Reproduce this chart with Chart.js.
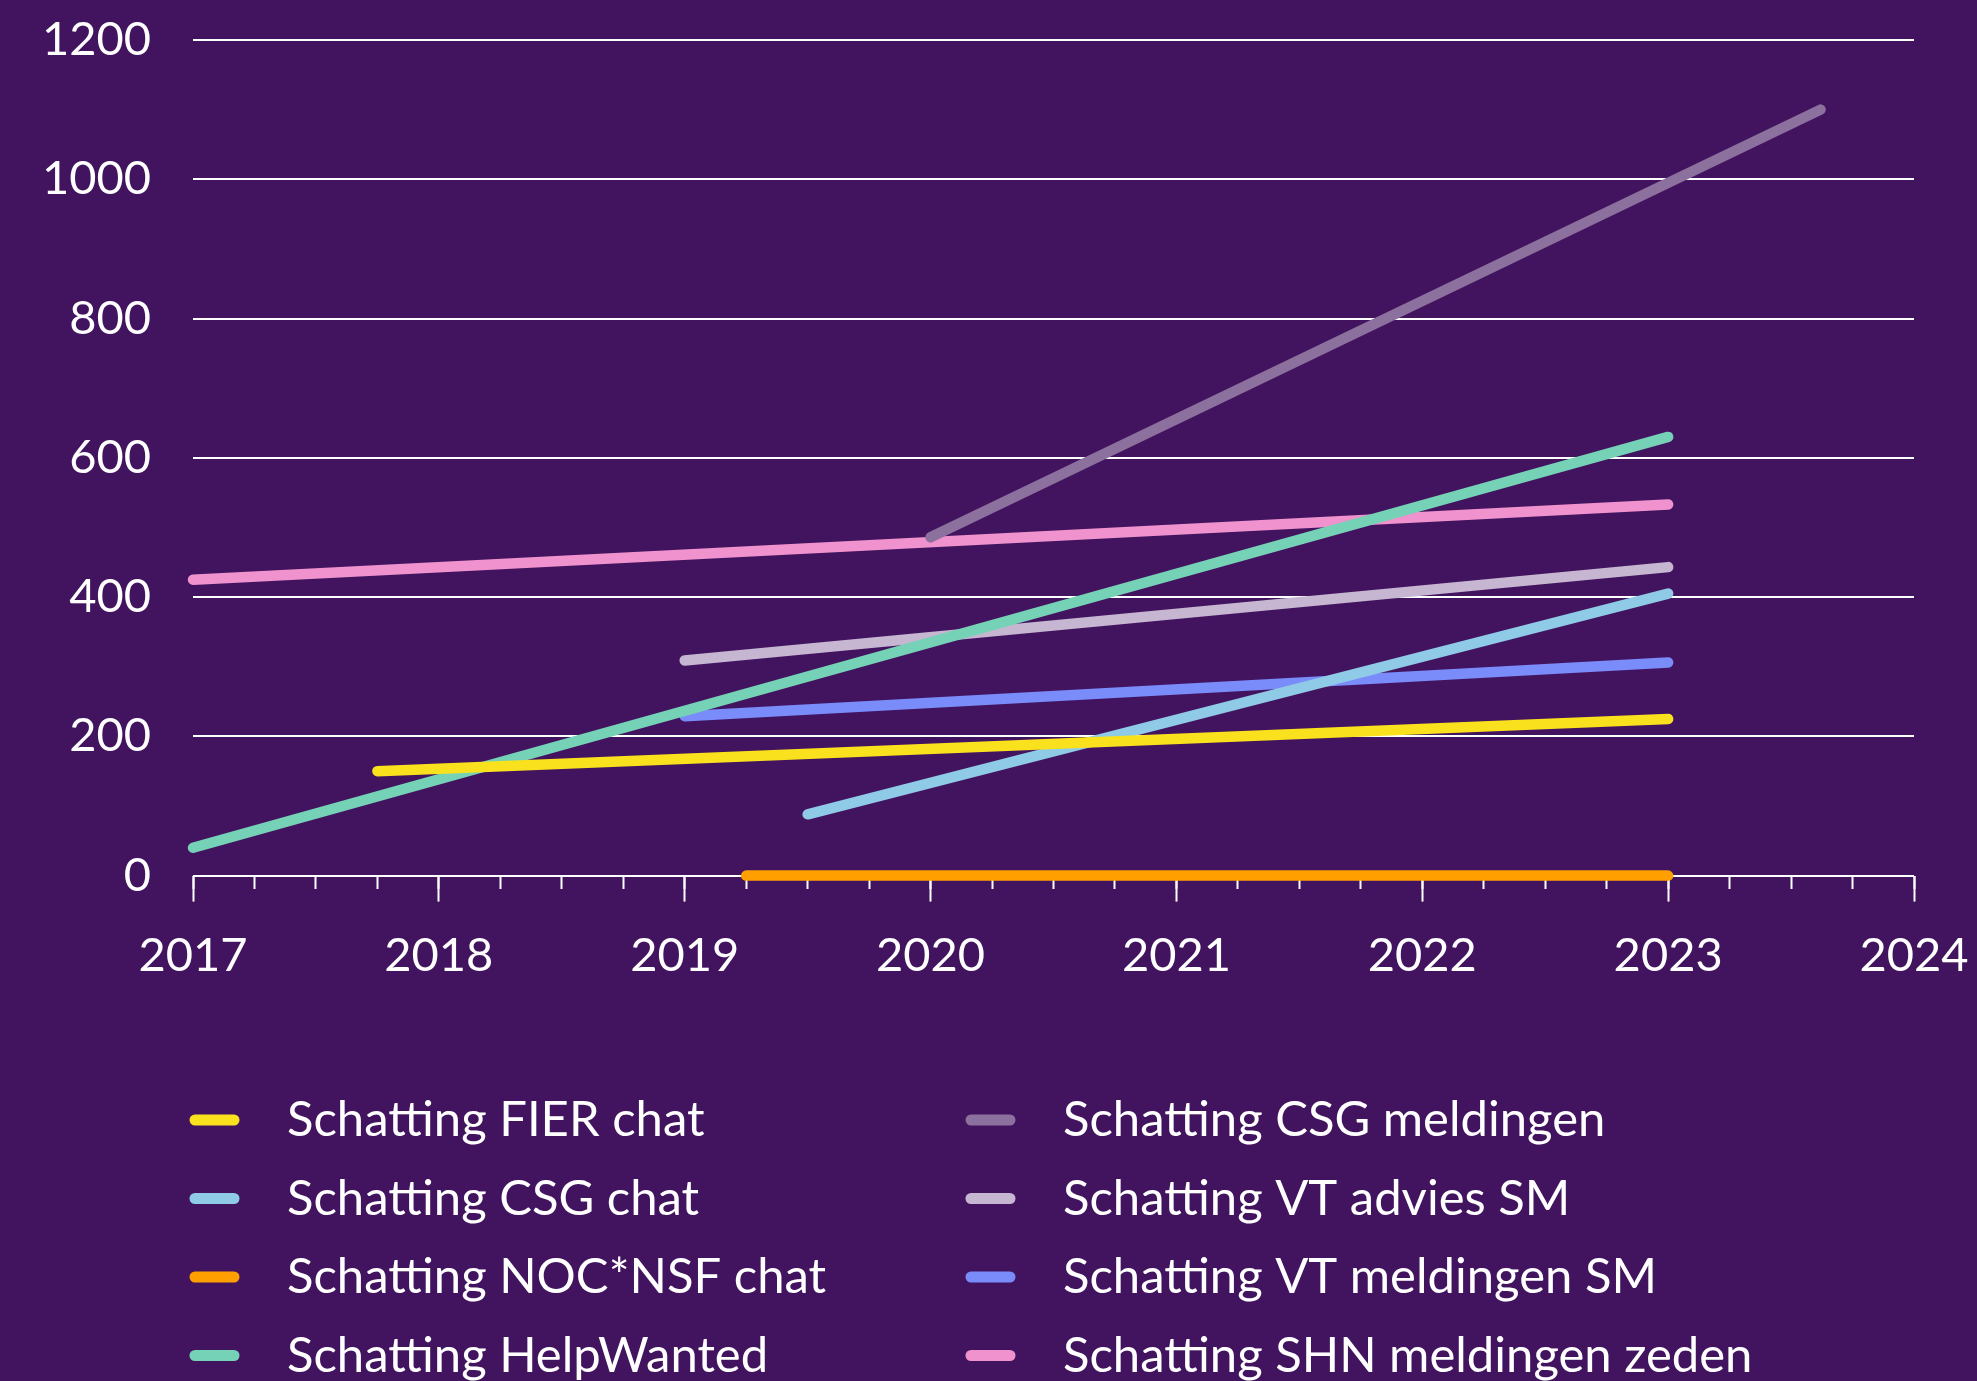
<!DOCTYPE html>
<html>
<head>
<meta charset="utf-8">
<script src="https://cdn.jsdelivr.net/npm/chart.js@4.4.1/dist/chart.umd.min.js"></script>
<style>
  html, body { margin: 0; padding: 0; background: #42145F; overflow: hidden; }
  #wrap { position: relative; width: 1977px; height: 1381px; }
</style>
</head>
<body>
<div id="wrap"><canvas id="c"></canvas></div>
<script>
// ---- data ----
const seriesLabels = [
  'Schatting FIER chat',
  'Schatting CSG chat',
  'Schatting NOC*NSF chat',
  'Schatting HelpWanted',
  'Schatting CSG meldingen',
  'Schatting VT advies SM',
  'Schatting VT meldingen SM',
  'Schatting SHN meldingen zeden'
];
const seriesColors = ['#F9E11E', '#8FCAE7', '#FFA000', '#76D2B6', '#8C709D', '#C6B6D1', '#7A8BFA', '#F092CD'];

const fierYears = [2017.75, 2023];      const fierValues = [150, 225];
const csgChatYears = [2019.5, 2023];    const csgChatValues = [88, 405];
const nocYears = [2019.25, 2023];       const nocValues = [0, 0];
const helpYears = [2017, 2023];         const helpValues = [40, 630];
const csgMeldYears = [2020, 2023.62];   const csgMeldValues = [486, 1100];
const vtAdviesYears = [2019, 2023];     const vtAdviesValues = [309, 443];
const vtMeldYears = [2019, 2023];       const vtMeldValues = [229, 306];
const shnYears = [2017, 2023];          const shnValues = [425, 533];

const yearsList = [fierYears, csgChatYears, nocYears, helpYears, csgMeldYears, vtAdviesYears, vtMeldYears, shnYears];
const valuesList = [fierValues, csgChatValues, nocValues, helpValues, csgMeldValues, vtAdviesValues, vtMeldValues, shnValues];

const xMin = 2017, xMax = 2024, yMin = 0, yMax = 1200;

const datasets = seriesLabels.map((label, i) => ({
  label,
  data: yearsList[i].map((x, j) => ({ x, y: valuesList[i][j] })),
  borderColor: seriesColors[i],
  backgroundColor: seriesColors[i],
  borderWidth: 10.5,
  borderCapStyle: 'round',
  borderJoinStyle: 'round',
  pointRadius: 0,
  pointHoverRadius: 0,
  tension: 0,
  fill: false,
  clip: false
}));

const gridLegend = {
  id: 'gridLegend',
  afterDraw(chart) {
    const ctx = chart.ctx;
    const n = chart.data.datasets.length;
    const perCol = Math.ceil(n / 2);
    chart.data.datasets.forEach((ds, i) => {
      const col = Math.floor(i / perCol), row = i % perCol;
      const mx = col === 0 ? 189 : 965;
      const y = 1120 + row * 78.5;
      ctx.save();
      ctx.strokeStyle = ds.borderColor;
      ctx.lineWidth = 11;
      ctx.lineCap = 'round';
      ctx.beginPath();
      ctx.moveTo(mx + 6, y);
      ctx.lineTo(mx + 45, y);
      ctx.stroke();
      ctx.fillStyle = '#FFFFFF';
      ctx.font = '49px Lato';
      ctx.textBaseline = 'alphabetic';
      ctx.textAlign = 'left';
      ctx.fillText(ds.label, mx + 98, y + 16);
      ctx.restore();
    });
  }
};

new Chart(document.getElementById('c'), {
  type: 'line',
  data: { datasets },
  plugins: [gridLegend],
  options: {
    responsive: true,
    maintainAspectRatio: false,
    animation: false,
    events: [],
    layout: { padding: { top: 40, right: 63, bottom: 371, left: 0 } },
    plugins: { legend: { display: false }, tooltip: { enabled: false } },
    scales: {
      x: {
        type: 'linear',
        position: 'bottom',
        min: xMin, max: xMax,
        afterFit(scale) { scale.paddingLeft = 0; scale.paddingRight = 0; },
        ticks: {
          stepSize: 1,
          color: '#FFFFFF',
          font: { family: 'Lato', size: 47 },
          padding: 26,
          maxRotation: 0,
          callback: v => String(v)
        },
        grid: { drawOnChartArea: false, drawTicks: true, tickLength: 26, tickColor: '#FFFFFF', tickWidth: 2 },
        border: { display: false }
      },
      x2: {
        type: 'linear',
        axis: 'x',
        position: { y: 0 },
        min: xMin, max: xMax,
        afterFit(scale) { scale.paddingLeft = 0; scale.paddingRight = 0; },
        ticks: { stepSize: 0.25, display: false },
        grid: { drawOnChartArea: false, drawTicks: true, tickLength: 13, tickColor: '#FFFFFF', tickWidth: 2 },
        border: { display: false }
      },
      y: {
        type: 'linear',
        min: yMin, max: yMax,
        afterFit(scale) { scale.width = 193; scale.paddingTop = 0; scale.paddingBottom = 0; },
        ticks: {
          stepSize: 200,
          color: '#FFFFFF',
          font: { family: 'Lato', size: 47 },
          padding: 42,
          callback: v => String(v)
        },
        grid: { color: '#FFFFFF', lineWidth: 2, drawTicks: false },
        border: { display: false }
      }
    }
  }
});
</script>
</body>
</html>
